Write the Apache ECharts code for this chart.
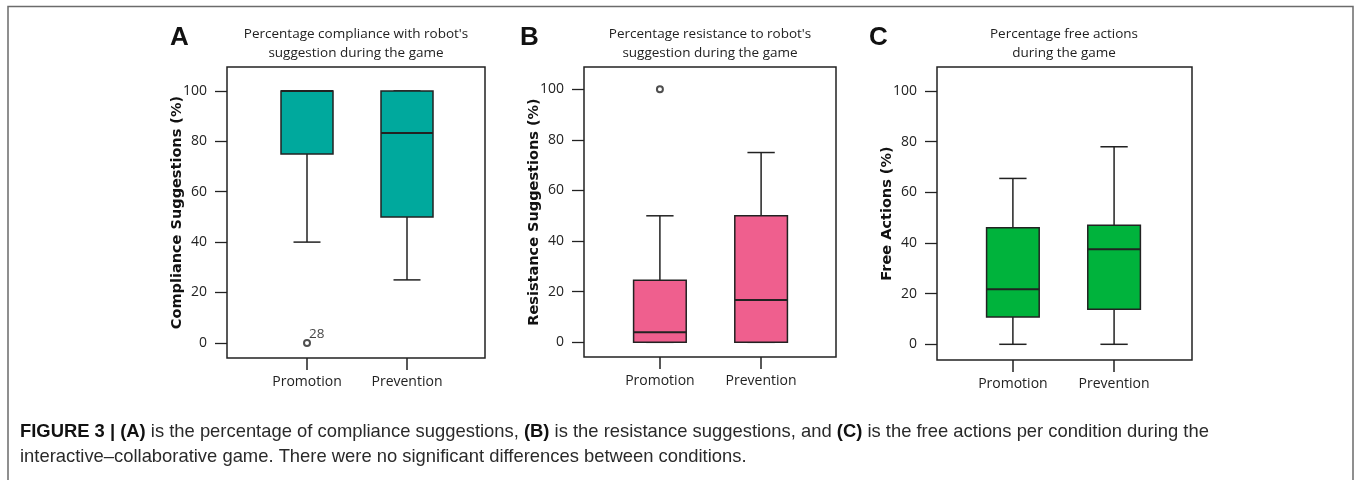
<!DOCTYPE html>
<html>
<head>
<meta charset="utf-8">
<script src="https://cdn.jsdelivr.net/npm/echarts@6/dist/echarts.min.js"></script>
<style>
html,body{margin:0;padding:0;background:#fff;}
#chart{width:1356px;height:480px;}
</style>
</head>
<body>
<div id="chart"></div>
<script>
// ---------- data ----------
const categories = ['Promotion', 'Prevention'];
const yTicks = [0, 20, 40, 60, 80, 100];

// [min, Q1, median, Q3, max] per category
const complianceStats = [[40, 75, 100, 100, 100], [25, 50, 83.3, 100, 100]];
const complianceOutliers = [[0, 0, '28']]; // [categoryIndex, value, label]

const resistanceStats = [[0, 0, 4, 24.5, 50], [0, 0, 16.7, 50, 75]];
const resistanceOutliers = [[0, 100, '']];

const freeStats = [[0, 10.8, 21.7, 46, 65.5], [0, 13.8, 37.5, 47, 78]];
const freeOutliers = [];

const panelTitles = [
  "Percentage compliance with robot's\nsuggestion during the game",
  "Percentage resistance to robot's\nsuggestion during the game",
  "Percentage free actions\nduring the game"
];
const panelLetters = ['A', 'B', 'C'];
const yNames = ['Compliance Suggestions (%)', 'Resistance Suggestions (%)', 'Free Actions (%)'];
const boxColors = ['#00A99D', '#EF5F8E', '#00B33C'];

// ---------- layout ----------
const panels = [
  {grid: {left: 227, top: 67, width: 258, height: 291}, xMin: 0.2, xMax: 2.78, yMin: -6, yMax: 109.5, titleX: 356, letterX: 170},
  {grid: {left: 584, top: 67, width: 252, height: 290}, xMin: 0.25, xMax: 2.74, yMin: -5.8, yMax: 108.8, titleX: 710, letterX: 520},
  {grid: {left: 937, top: 67, width: 255, height: 293}, xMin: 0.25, xMax: 2.77, yMin: -6.2, yMax: 109.5, titleX: 1064, letterX: 869}
];
const statsList = [complianceStats, resistanceStats, freeStats];
const outlierList = [complianceOutliers, resistanceOutliers, freeOutliers];

const ink = '#222';
const font = 'Open Sans';

function renderBox(params, api) {
  const x = api.value(0);
  const lo = api.coord([x, api.value(1)]);
  const q1 = api.coord([x, api.value(2)]);
  const med = api.coord([x, api.value(3)]);
  const q3 = api.coord([x, api.value(4)]);
  const hi = api.coord([x, api.value(5)]);
  const unit = api.size([1, 0])[0];
  const bw = unit * 0.52;
  const cw = unit * 0.27;
  const cx = lo[0];
  const ls = {stroke: ink, lineWidth: 1.5, fill: null};
  const children = [
    {type: 'line', shape: {x1: cx, y1: q3[1], x2: cx, y2: hi[1]}, style: ls},
    {type: 'line', shape: {x1: cx, y1: q1[1], x2: cx, y2: lo[1]}, style: ls},
    {type: 'line', shape: {x1: cx - cw / 2, y1: hi[1], x2: cx + cw / 2, y2: hi[1]}, style: ls},
    {type: 'line', shape: {x1: cx - cw / 2, y1: lo[1], x2: cx + cw / 2, y2: lo[1]}, style: ls},
    {type: 'rect', shape: {x: cx - bw / 2, y: q3[1], width: bw, height: q1[1] - q3[1]},
      style: {fill: api.visual('color'), stroke: ink, lineWidth: 1.5}},
    {type: 'line', shape: {x1: cx - bw / 2, y1: med[1], x2: cx + bw / 2, y2: med[1]}, style: {stroke: ink, lineWidth: 2}}
  ];
  return {type: 'group', children: children};
}

const option = {
  backgroundColor: '#fff',
  animation: false,
  grid: [], xAxis: [], yAxis: [], series: [], title: [],
  graphic: [{
    type: 'polyline', silent: true,
    shape: {points: [[8, 485], [8, 6.5], [1353, 6.5], [1353, 485]]},
    style: {stroke: '#6b6b6b', lineWidth: 1.5, fill: null}
  }]
};

panels.forEach(function (p, i) {
  option.grid.push(Object.assign({show: true, borderColor: ink, borderWidth: 1.5, backgroundColor: 'transparent'}, p.grid));
  option.xAxis.push({
    type: 'value', gridIndex: i, min: p.xMin, max: p.xMax,
    splitLine: {show: false},
    axisLine: {show: false, onZero: false},
    axisTick: {show: true, length: 12, customValues: [1, 2], lineStyle: {color: ink, width: 1.5}},
    axisLabel: {
      customValues: [1, 2], margin: 17, color: ink, fontSize: 14, fontFamily: font,
      formatter: function (v) { return categories[Math.round(v) - 1] || ''; }
    }
  });
  option.yAxis.push({
    type: 'value', gridIndex: i, min: p.yMin, max: p.yMax,
    splitLine: {show: false},
    axisLine: {show: false, onZero: false},
    axisTick: {show: true, length: 12, customValues: yTicks, lineStyle: {color: ink, width: 1.3}},
    axisLabel: {customValues: yTicks, margin: 20, color: ink, fontSize: 14, fontFamily: font},
    name: yNames[i], nameLocation: 'middle', nameGap: 42, nameMoveOverlap: false,
    nameTextStyle: {fontFamily: 'DejaVu Sans', fontWeight: 'bold', fontSize: 14.5, color: '#111'}
  });
  option.series.push({
    type: 'custom', xAxisIndex: i, yAxisIndex: i,
    renderItem: renderBox,
    itemStyle: {color: boxColors[i]},
    encode: {x: 0, y: [1, 2, 3, 4, 5]},
    data: statsList[i].map(function (s, k) { return [k + 1].concat(s); }),
    z: 2
  });
  option.series.push({
    type: 'scatter', xAxisIndex: i, yAxisIndex: i,
    symbol: 'emptyCircle', symbolSize: 6,
    itemStyle: {color: ink, borderWidth: 1.3},
    label: {show: true, position: [6, -12], color: '#111', fontSize: 13.5, fontFamily: font,
      formatter: function (d) { return d.value[2]; }},
    data: outlierList[i].map(function (o) { return [o[0] + 1, o[1], o[2]]; }),
    z: 3
  });
  option.title.push({
    text: panelTitles[i], left: p.titleX, top: 25, textAlign: 'center', padding: 0,
    textStyle: {fontFamily: font, fontSize: 13.5, fontWeight: 'normal', color: ink, lineHeight: 19}
  });
  option.title.push({
    text: panelLetters[i], left: p.letterX, top: 25, padding: 0,
    textStyle: {fontFamily: 'Liberation Sans', fontSize: 26, fontWeight: 'bold', color: '#111'}
  });
});

option.title.push({
  text: '{b|FIGURE 3 | (A)} is the percentage of compliance suggestions, {b|(B)} is the resistance suggestions, and {b|(C)} is the free actions per condition during the\ninteractive–collaborative game. There were no significant differences between conditions.',
  left: 20, top: 419, padding: 0,
  textStyle: {
    fontFamily: 'Liberation Sans', fontSize: 18.4, color: '#2a2a2a', lineHeight: 25, fontWeight: 'normal',
    rich: {b: {fontFamily: 'Liberation Sans', fontSize: 18.4, fontWeight: 'bold', color: '#111', lineHeight: 25}}
  }
});

const chart = echarts.init(document.getElementById('chart'), null, {renderer: 'canvas'});
chart.setOption(option);
</script>
</body>
</html>
